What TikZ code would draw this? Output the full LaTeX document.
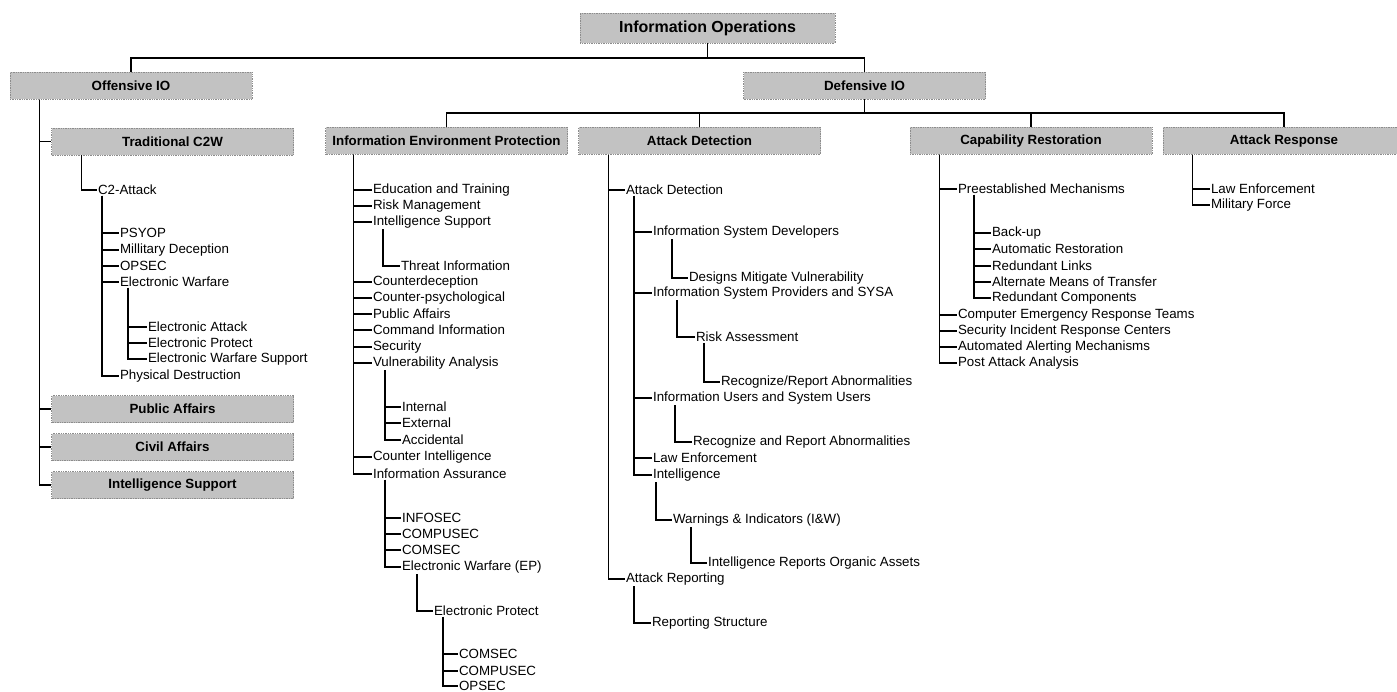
\documentclass[tikz,border=0pt]{standalone}
\usepackage{fontspec}
\setmainfont{Liberation Sans}
\usetikzlibrary{calc}
\newcommand\tbranch[3]{\draw[conn] ($(#1.south west)+(#2,0)$) |- (#3.west);}
\tikzset{
  x=0.75pt, y=-0.75pt,
  conn/.style={draw=black, line width=0.9pt},
  item/.style={anchor=west, inner sep=0.6pt, font=\fontsize{10}{12}\selectfont},
  hbox/.style={fill=black!24, draw=black!45, line width=0.3pt, densely dotted,
    minimum width=181.5pt, minimum height=20.25pt, inner sep=0pt,
    font=\fontsize{10}{12}\selectfont\bfseries},
}
\begin{document}
\begin{tikzpicture}
\useasboundingbox (0,0) rectangle (1397,692);
% header boxes
\node[hbox, minimum width=191pt, minimum height=22.5pt, font=\fontsize{12}{14}\selectfont\bfseries] (io) at (707.5,28) {Information Operations};
\node[hbox] (off) at (131,86) {Offensive IO};
\node[hbox] (def) at (864.5,85.5) {Defensive IO};
\node[hbox] (tc2w) at (172.5,141.5) {Traditional C2W};
\node[hbox] (pa) at (172.5,409) {Public Affairs};
\node[hbox] (ca) at (172.5,447) {Civil Affairs};
\node[hbox] (is) at (172.5,485) {Intelligence Support};
\node[hbox] (iep) at (446.5,141) {Information Environment Protection};
\node[hbox] (ad) at (699.5,141) {Attack Detection};
\node[hbox] (cr) at (1031,141) {Capability Restoration};
\node[hbox] (ar) at (1284,141) {Attack Response};
% top connectors
\coordinate (bus1) at (0,58);
\coordinate (bus2) at (0,113);
\draw[conn] (io.south) -- (io.south |- bus1) -| (off.north);
\draw[conn] (io.south |- bus1) -| (def.north);
\draw[conn] (def.south) -- (def.south |- bus2) -| (iep.north);
\draw[conn] (def.south |- bus2) -| (ad.north);
\draw[conn] (def.south |- bus2) -| (cr.north);
\draw[conn] (def.south |- bus2) -| (ar.north);
% offensive
\tbranch{off}{30}{tc2w}
\tbranch{off}{30}{pa}
\tbranch{off}{30}{ca}
\tbranch{off}{30}{is}
\node[item] (c2a) at (97,190) {C2-Attack};
\tbranch{tc2w}{30}{c2a}
\node[item] (psyop) at (119,233) {PSYOP};
\node[item] (mildec) at (119,250) {Millitary Deception};
\node[item] (opsec1) at (119,266) {OPSEC};
\node[item] (ew1) at (119,282) {Electronic Warfare};
\node[item] (physd) at (119,376) {Physical Destruction};
\foreach \c in {psyop,mildec,opsec1,ew1,physd} {\tbranch{c2a}{5}{\c}}
\node[item] (ea) at (147,327) {Electronic Attack};
\node[item] (ep1) at (147,343) {Electronic Protect};
\node[item] (ews) at (147,359) {Electronic Warfare Support};
\foreach \c in {ea,ep1,ews} {\tbranch{ew1}{9}{\c}}
% information environment protection
\node[item] (edu) at (372,190) {Education and Training};
\node[item] (risk) at (372,206) {Risk Management};
\node[item] (intsup) at (372,222) {Intelligence Support};
\node[item] (cdec) at (372,282) {Counterdeception};
\node[item] (cpsy) at (372,298) {Counter-psychological};
\node[item] (pubaff) at (372,314) {Public Affairs};
\node[item] (cmdinfo) at (372,330) {Command Information};
\node[item] (secur) at (372,347) {Security};
\node[item] (vuln) at (372,363) {Vulnerability Analysis};
\node[item] (cint) at (372,457) {Counter Intelligence};
\node[item] (infoass) at (372,474) {Information Assurance};
\foreach \c in {edu,risk,intsup,cdec,cpsy,pubaff,cmdinfo,secur,vuln,cint,infoass} {\tbranch{iep}{28}{\c}}
\node[item] (threat) at (400,266) {Threat Information};
\tbranch{intsup}{11}{threat}
\node[item] (intern) at (401,407) {Internal};
\node[item] (extern) at (401,423) {External};
\node[item] (accid) at (401,440) {Accidental};
\foreach \c in {intern,extern,accid} {\tbranch{vuln}{13}{\c}}
\node[item] (infosec) at (401,518) {INFOSEC};
\node[item] (compusec1) at (401,534) {COMPUSEC};
\node[item] (comsec1) at (401,550) {COMSEC};
\node[item] (ewep) at (401,567) {Electronic Warfare (EP)};
\foreach \c in {infosec,compusec1,comsec1,ewep} {\tbranch{infoass}{13}{\c}}
\node[item] (elprot) at (433,611) {Electronic Protect};
\tbranch{ewep}{16}{elprot}
\node[item] (comsec2) at (458,654) {COMSEC};
\node[item] (compusec2) at (458,671) {COMPUSEC};
\node[item] (opsec2) at (458,686) {OPSEC};
\foreach \c in {comsec2,compusec2,opsec2} {\tbranch{elprot}{10}{\c}}
% attack detection
\node[item] (adi) at (625,190) {Attack Detection};
\node[item] (attrep) at (625,579) {Attack Reporting};
\tbranch{ad}{30}{adi}
\tbranch{ad}{30}{attrep}
\node[item] (isd) at (652,232) {Information System Developers};
\node[item] (isp) at (652,293) {Information System Providers and SYSA};
\node[item] (iu) at (652,398) {Information Users and System Users};
\node[item] (le) at (652,458) {Law Enforcement};
\node[item] (intel) at (652,475) {Intelligence};
\foreach \c in {isd,isp,iu,le,intel} {\tbranch{adi}{9}{\c}}
\node[item] (dmv) at (688,278) {Designs Mitigate Vulnerability};
\tbranch{isd}{20}{dmv}
\node[item] (ra) at (695,337) {Risk Assessment};
\tbranch{isp}{25}{ra}
\node[item] (rra) at (720,382) {Recognize/Report Abnormalities};
\tbranch{ra}{9}{rra}
\node[item] (rara) at (692,442) {Recognize and Report Abnormalities};
\tbranch{iu}{23}{rara}
\node[item] (iw) at (672,520) {Warnings \& Indicators (I\&W)};
\tbranch{intel}{4}{iw}
\node[item] (iroa) at (707,563) {Intelligence Reports Organic Assets};
\tbranch{iw}{19}{iroa}
\node[item] (rs) at (651,623) {Reporting Structure};
\tbranch{attrep}{9}{rs}
% capability restoration
\node[item] (pm) at (957,189) {Preestablished Mechanisms};
\node[item] (cert) at (957,315) {Computer Emergency Response Teams};
\node[item] (sirc) at (957,331) {Security Incident Response Centers};
\node[item] (aam) at (957,347) {Automated Alerting Mechanisms};
\node[item] (paa) at (957,363) {Post Attack Analysis};
\foreach \c in {pm,cert,sirc,aam,paa} {\tbranch{cr}{30}{\c}}
\node[item] (backup) at (991,233) {Back-up};
\node[item] (autorest) at (991,249) {Automatic Restoration};
\node[item] (redlinks) at (991,266) {Redundant Links};
\node[item] (altmeans) at (991,282) {Alternate Means of Transfer};
\node[item] (redcomp) at (991,298) {Redundant Components};
\foreach \c in {backup,autorest,redlinks,altmeans,redcomp} {\tbranch{pm}{17}{\c}}
% attack response
\node[item] (lawenf) at (1210,189) {Law Enforcement};
\node[item] (milforce) at (1210,205) {Military Force};
\foreach \c in {lawenf,milforce} {\tbranch{ar}{30}{\c}}
\end{tikzpicture}
\end{document}
